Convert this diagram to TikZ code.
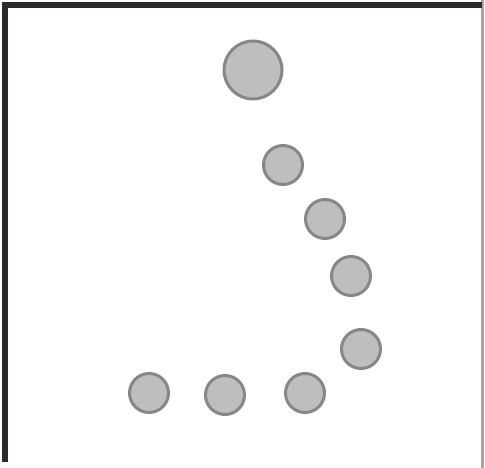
\documentclass[tikz,border=0pt]{standalone}
\usepackage{tikz}

\definecolor{ballfill}{RGB}{190,190,190}
\definecolor{balledge}{RGB}{135,135,135}
\definecolor{frameline}{RGB}{45,40,42}
\definecolor{frameedge}{RGB}{165,165,165}

\begin{document}
\begin{tikzpicture}[x=1pt,y=-1pt,
  ball/.style={circle,fill=ballfill,draw=balledge,line width=3pt,inner sep=0pt,minimum size=39pt},
  bigball/.style={ball,minimum size=58pt}]

\useasboundingbox (0,0) rectangle (485,468);

% frame: dark top and left edge, thin grey right edge
\draw[frameedge,line width=3pt] (482,0) -- (482,468);
\draw[frameline,line width=6pt] (2,5) -- (482,5);
\draw[frameline,line width=6pt] (5,2) -- (5,462);

% top ball
\node[bigball] (b0) at (253,70) {};

% balls going down the right side (top to bottom)
\node[ball] (b1) at (283,165) {};
\node[ball] (b2) at (325,219) {};
\node[ball] (b3) at (351,276) {};
\node[ball] (b4) at (361,349) {};

% bottom row (right to left)
\node[ball] (b5) at (305,393) {};
\node[ball] (b6) at (225,395) {};
\node[ball] (b7) at (149,393) {};

\end{tikzpicture}
\end{document}
